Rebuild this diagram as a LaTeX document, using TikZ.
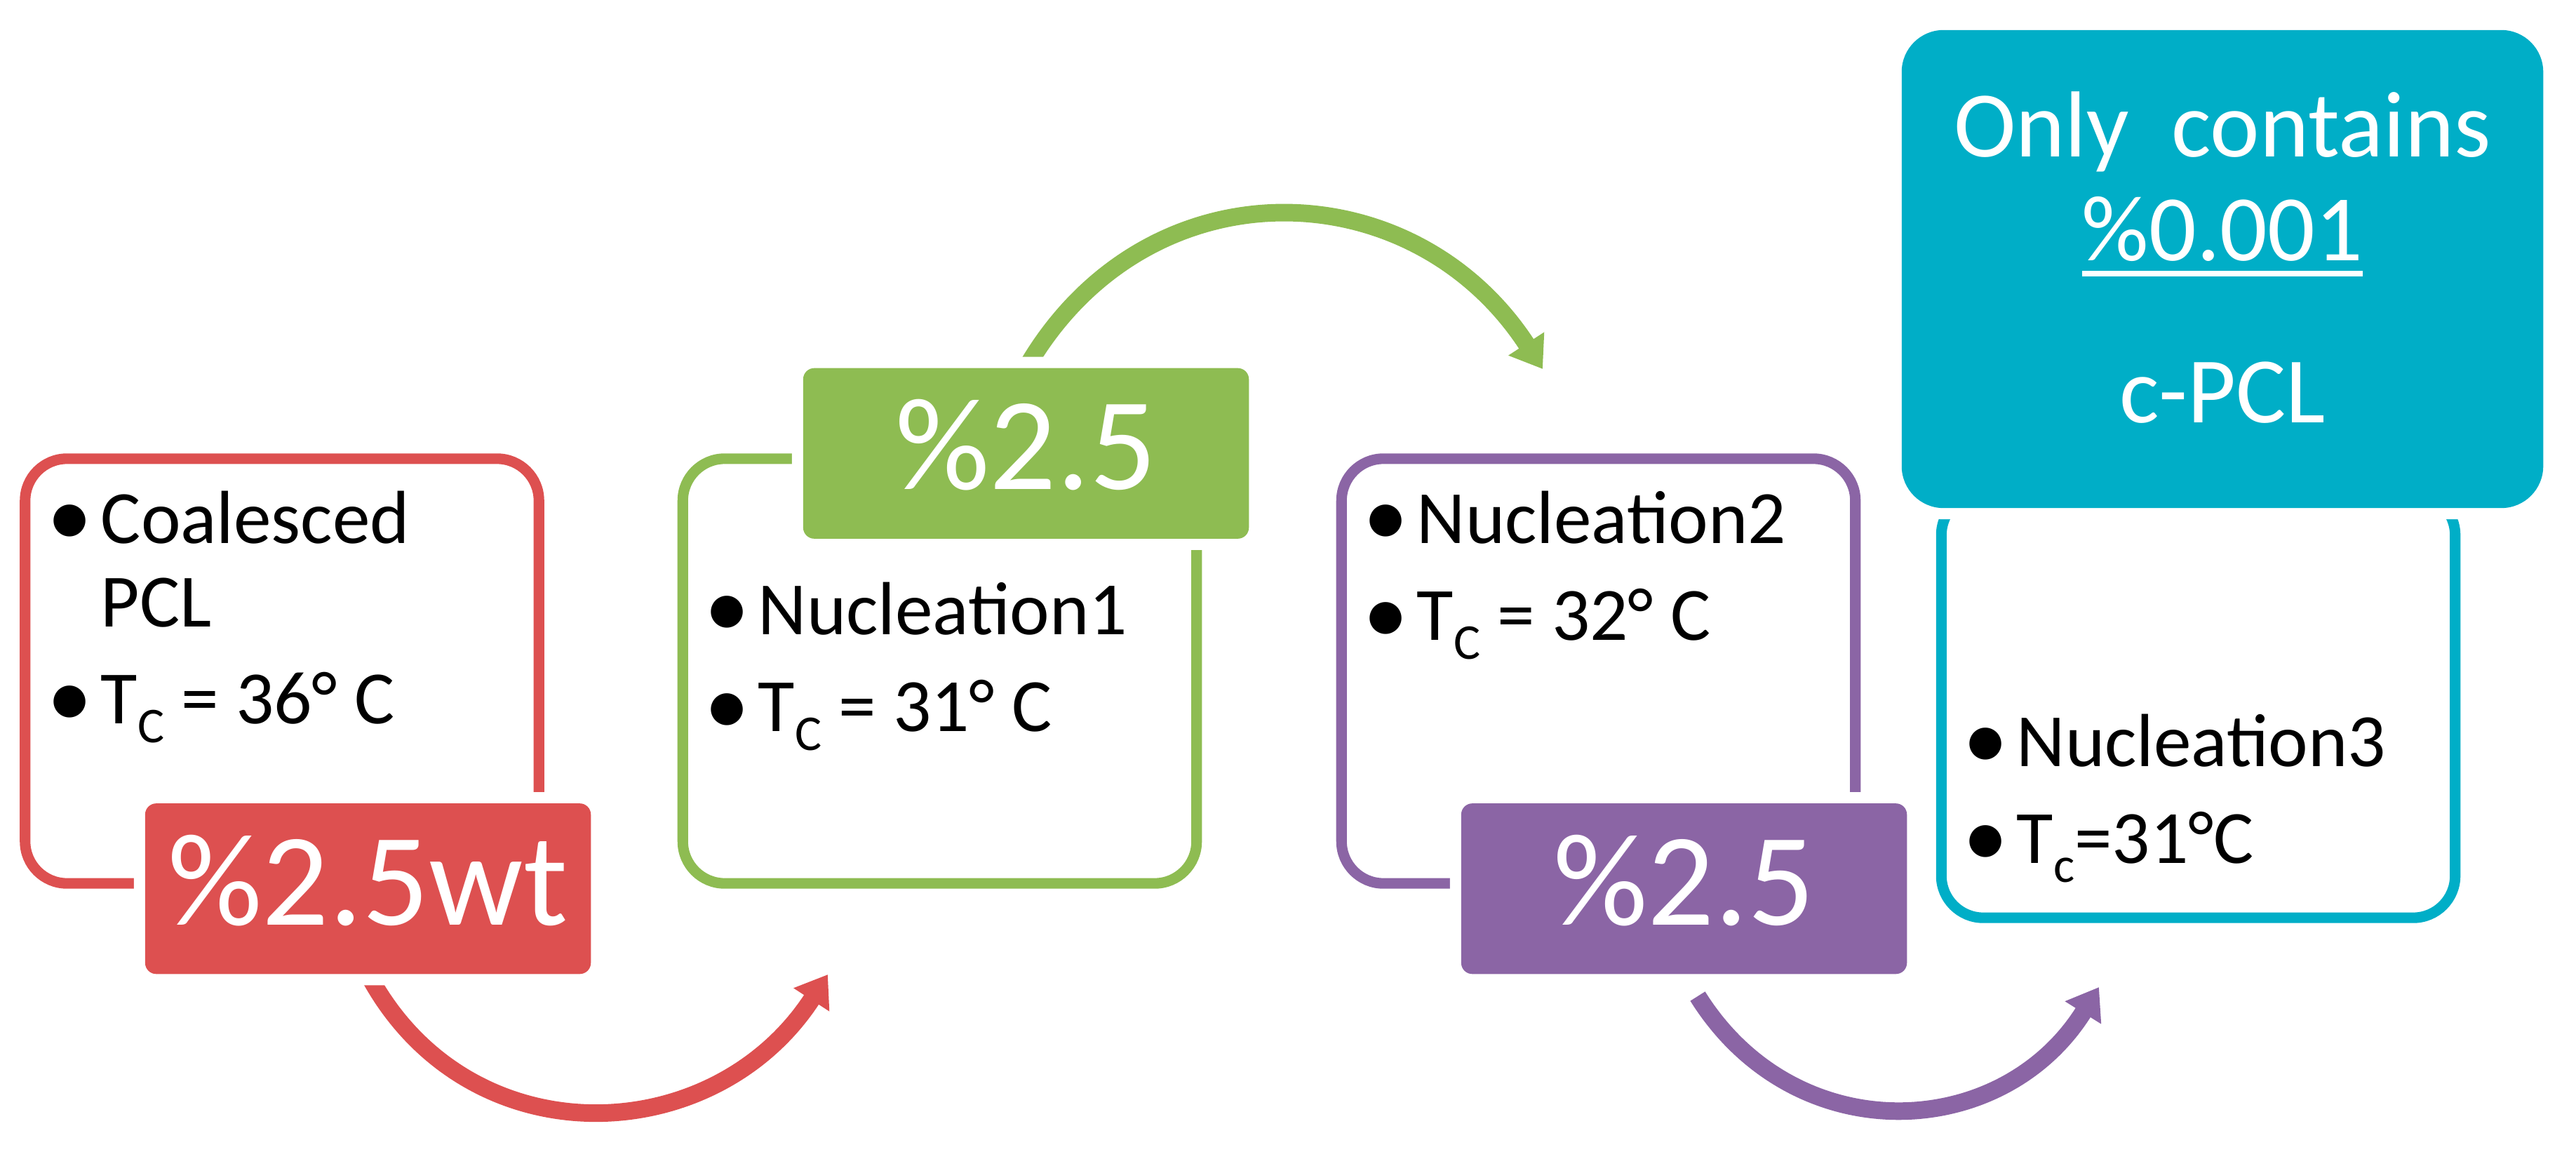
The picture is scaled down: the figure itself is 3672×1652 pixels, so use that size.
\documentclass[tikz,border=0pt]{standalone}
\usepackage{fontspec}
\usepackage{graphicx}
\setmainfont{Carlito}
\usetikzlibrary{arrows.meta}

\definecolor{flowred}{HTML}{DD5050}
\definecolor{flowgreen}{HTML}{8EBC52}
\definecolor{flowpurple}{HTML}{8B65A5}
\definecolor{flowcyan}{HTML}{00AEC7}

\pgfdeclarelayer{background}
\pgfsetlayers{background,main}

\newcommand{\bul}{\makebox[20.8pt][l]{\hspace*{-1pt}\raisebox{-1.4pt}{\scalebox{1.2}{•}}}}
\newcommand{\nobul}{\hspace*{20.8pt}}
\newcommand{\lowsub}[1]{\raisebox{-7.7pt}{\fontsize{20.3}{22}\selectfont #1}}
\newsavebox{\ulbox}
\newcommand{\thickul}[1]{\sbox{\ulbox}{#1}\rlap{\rule[-6.5pt]{\wd\ulbox}{2.3pt}}\usebox{\ulbox}}

\tikzset{
	frame/.style={draw=#1, line width=4.3pt, rounded corners=17pt, minimum width=7.32cm, minimum height=6.05cm, inner sep=0pt},
	tag/.style={fill=#1, text=white, inner sep=0pt, outer sep=0pt, preaction={draw=white, line width=9.1pt}},
	tagsmall/.style={rounded corners=4.5pt, minimum width=6.35cm, minimum height=2.43cm, font=\fontsize{53.5}{60}\selectfont, text height=33.8pt, text depth=4.5pt},
	items/.style={anchor=base west, inner sep=0pt, font=\fontsize{30.5}{33.9}\selectfont},
	bend/.style={draw=#1, line width=7.1pt, -{Triangle[width=16.5pt,length=12.2pt]}}
}

\begin{document}
\begin{tikzpicture}[x=0.01cm, y=-0.01cm]

	\useasboundingbox (0,0) rectangle (3672,1652);

	%outlined boxes
	\node[frame=flowred] (box1) at (402,956.5) {};
	\node[frame=flowgreen] (box2) at (1339.5,956.5) {};
	\node[frame=flowpurple] (box3) at (2278.5,956.5) {};
	\node[frame=flowcyan] (box4) at (3133.5,1005.5) {};

	%bullet texts
	\node[items] (t1) at (70,774) {\begin{tabular}[t]{@{}l@{}}\bul Coalesced\\ \nobul PCL\\[5.4pt] \bul T\lowsub{C} = 36° C\end{tabular}};
	\node[items] (t2) at (1007,904) {\begin{tabular}[t]{@{}l@{}}\bul Nucleation1\\[5.4pt] \bul T\lowsub{C} = 31° C\end{tabular}};
	\node[items] (t3) at (1946,774) {\begin{tabular}[t]{@{}l@{}}\bul Nucleation2\\[5.4pt] \bul T\lowsub{C} = 32° C\end{tabular}};
	\node[items] (t4) at (2801,1092) {\begin{tabular}[t]{@{}l@{}}\bul Nucleation3\\[5.4pt] \bul T\lowsub{c}=31°C\end{tabular}};

	%filled tags
	\node[tag=flowred, tagsmall] (lab1) at ([xshift=1.225cm]box1.south) {\%2.5wt};
	\node[tag=flowgreen, tagsmall] (lab2) at ([xshift=1.23cm]box2.north) {\%2.5};
	\node[tag=flowpurple, tagsmall] (lab3) at ([xshift=1.22cm]box3.south) {\%2.5};
	\node[tag=flowcyan, rounded corners=17pt, minimum width=9.14cm, minimum height=6.81cm, font=\fontsize{38}{42.1}\selectfont] (lab4) at (3168,383.5)
		{\begin{tabular}[t]{@{}c@{}}Only~~contains\\ \thickul{\%0.001}\\[23.6pt] c-PCL\end{tabular}};

	%arrow ends
	\coordinate (tip1) at (1180,1389);
	\coordinate (tip2) at (2199,526);
	\coordinate (start3) at (2420,1420);
	\coordinate (tip3) at (2992,1407);

	%bent arrows
	\begin{pgfonlayer}{background}
		\draw[bend=flowred] (lab1.south) .. controls +(62:300) and +(123:300) .. (tip1);
		\draw[bend=flowgreen] (lab2.north) .. controls +(-60:341) and +(-123:341) .. (tip2);
		\draw[bend=flowpurple] (start3) .. controls +(58:261) and +(122:261) .. (tip3);
	\end{pgfonlayer}

\end{tikzpicture}
\end{document}
